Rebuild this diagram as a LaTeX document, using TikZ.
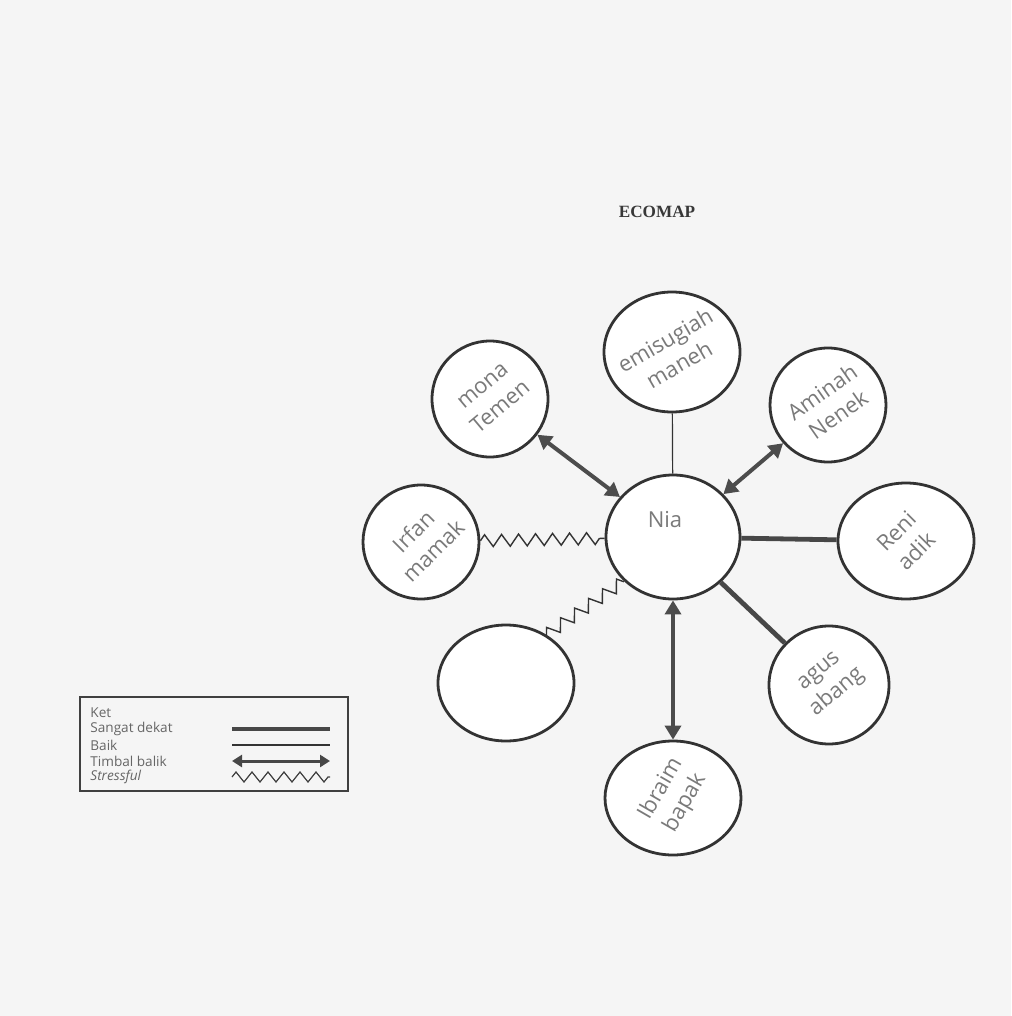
\documentclass[tikz,border=0pt]{standalone}
\usepackage{fontspec}
\setmainfont{Open Sans}
\newfontfamily\titlefont{Liberation Serif}
\usetikzlibrary{shapes.geometric,arrows.meta,decorations.pathmorphing}
\begin{document}
\begin{tikzpicture}[x=0.5pt,y=-0.5pt,
  circ/.style={ellipse,draw=black!80,line width=1.4pt,fill=white,inner sep=0pt},
  hand/.style={text=black!52,font=\fontsize{11}{14}\selectfont,align=center},
  sangat/.style={line width=2.4pt,draw=black!72},
  baik/.style={line width=0.6pt,draw=black!80},
  timbal/.style={line width=2pt,draw=black!70,{Triangle[length=7pt,width=8pt]}-{Triangle[length=7pt,width=8pt]}},
  stress/.style={line width=0.7pt,draw=black!80,decorate,decoration={zigzag,segment length=8.5pt,amplitude=3pt}},
  legtext/.style={anchor=west,text=black!60,font=\fontsize{6.8}{7}\selectfont,inner sep=0pt},
]
\useasboundingbox (0,0) rectangle (1011,1016);
\fill[black!4] (0,0) rectangle (1011,1016);

\node[font=\titlefont\bfseries\fontsize{8.6}{10}\selectfont,text=black!78] (title) at (657,212) {ECOMAP};

% circles
\node[circ,minimum width=67pt,minimum height=62pt] (nia) at (673,537) {};
\node[circ,minimum width=68pt,minimum height=60pt] (emis) at (672,352) {};
\node[circ,minimum width=58pt,minimum height=58pt] (mona) at (490,399) {};
\node[circ,minimum width=58pt,minimum height=57pt] (aminah) at (828,405) {};
\node[circ,minimum width=58pt,minimum height=57pt] (irfan) at (421,542) {};
\node[circ,minimum width=68pt,minimum height=58pt] (reni) at (906,541) {};
\node[circ,minimum width=68pt,minimum height=58pt] (empty) at (506,683) {};
\node[circ,minimum width=60pt,minimum height=59pt] (agus) at (829,685) {};
\node[circ,minimum width=68pt,minimum height=57pt] (ibraim) at (673,798) {};

% handwritten labels
\node[hand] (niaT) at (665,520) {Nia};
\node[hand,rotate=30] (emisT) at (672,352) {emisugiah\\maneh};
\node[hand,rotate=40] (monaT) at (492,397) {mona\\Temen};
\node[hand,rotate=35] (aminahT) at (830,403) {Aminah\\Nenek};
\node[hand,rotate=45] (irfanT) at (423,541) {Irfan\\mamak};
\node[hand,rotate=45] (reniT) at (906,541) {Reni\\adik};
\node[hand,rotate=40] (agusT) at (829,683) {agus\\abang};
\node[hand,rotate=60] (ibraimT) at (673,796) {Ibraim\\bapak};

% connectors
\draw[timbal] (mona) -- (nia);
\draw[timbal] (aminah) -- (nia);
\draw[baik] (emis) -- (nia);
\draw[stress] (irfan) -- (nia);
\draw[stress] (empty.50) -- (nia.222);
\draw[sangat] (reni) -- (nia);
\draw[sangat] (agus) -- (nia);
\draw[timbal] (ibraim) -- (nia);

% legend
\node[draw=black!75,line width=0.8pt,minimum width=134pt,minimum height=47pt,inner sep=0pt] (legend) at (214,744) {};
\node[legtext] (k0) at (90,713) {Ket};
\node[legtext] (k1) at (90,729) {Sangat dekat};
\node[legtext] (k2) at (90,745) {Baik};
\node[legtext] (k3) at (90,761) {Timbal balik};
\node[legtext] (k4) at (90,777) {\itshape Stressful};
\coordinate (s1a) at (232,729); \coordinate (s1b) at (330,729);
\coordinate (s2a) at (232,745); \coordinate (s2b) at (330,745);
\coordinate (s3a) at (232,761); \coordinate (s3b) at (330,761);
\coordinate (s4a) at (232,777); \coordinate (s4b) at (330,777);
\draw[line width=2pt,draw=black!72] (s1a) -- (s1b);
\draw[line width=0.6pt,draw=black!80] (s2a) -- (s2b);
\draw[line width=1.5pt,draw=black!72,{Triangle[length=5pt,width=6pt]}-{Triangle[length=5pt,width=6pt]}] (s3a) -- (s3b);
\draw[line width=0.6pt,draw=black!75,decorate,decoration={zigzag,segment length=8pt,amplitude=2.5pt}] (s4a) -- (s4b);
\end{tikzpicture}
\end{document}
